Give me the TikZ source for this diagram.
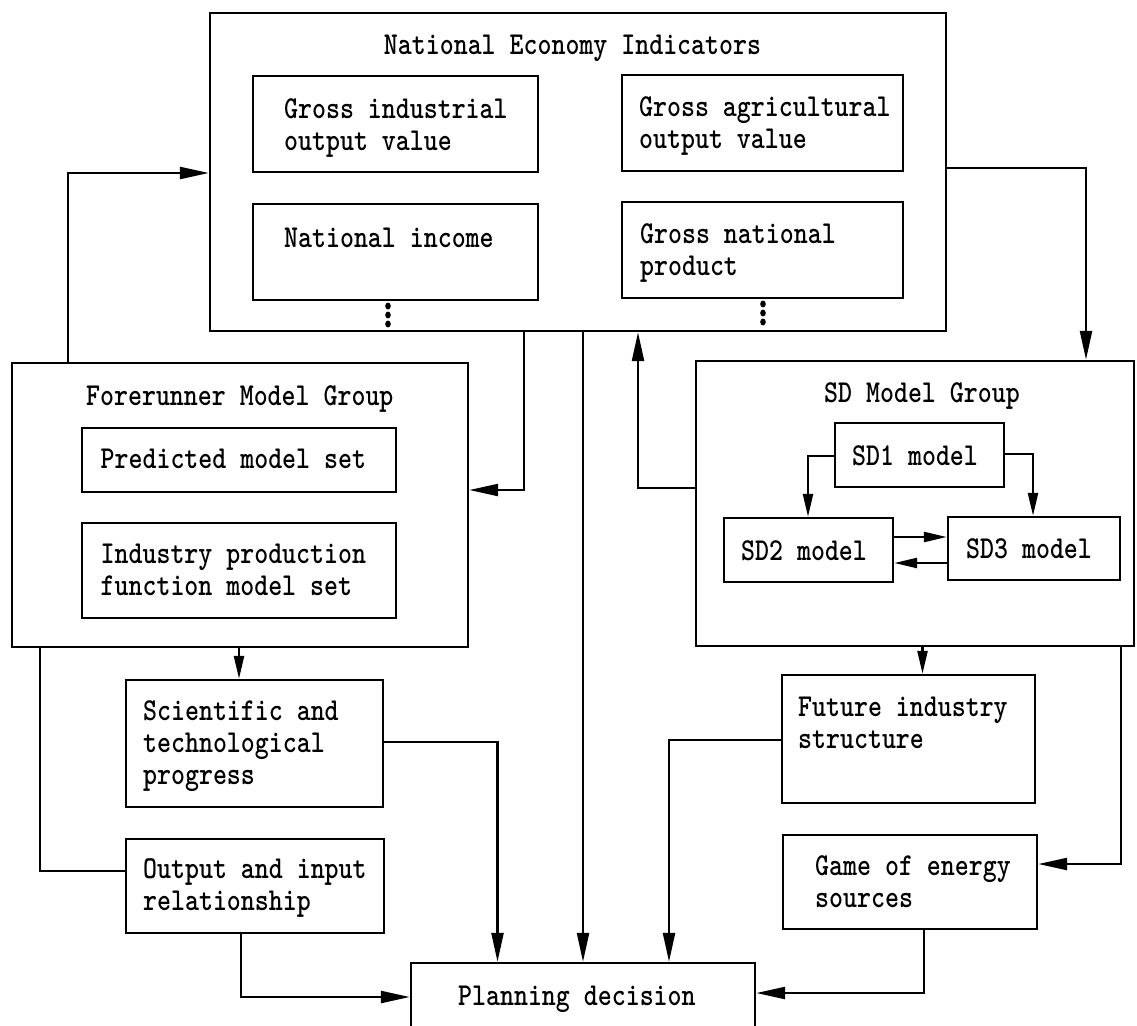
\documentclass[tikz,border=0pt]{standalone}
\usetikzlibrary{arrows.meta}
\begin{document}
\begin{tikzpicture}[x=1pt,y=-1pt, line width=2.4pt,
  box/.style={draw, rectangle, inner sep=0pt},
  txt/.style={anchor=base west, align=left, inner sep=0pt, transform shape, yscale=1.2, font=\ttfamily\bfseries\fontsize{26.6}{26.3}\selectfont},
  arr/.style={-{Triangle[length=29pt,width=12pt]}},
  sarr/.style={-{Triangle[length=23pt,width=10pt]}}]
\useasboundingbox (0,0) rectangle (1137,1025);

% National Economy Indicators
\node[box, minimum width=736pt, minimum height=318pt] (nei) at (578,172) {};
\node[txt, anchor=base] (neit) at (572.5,55) {National Economy Indicators};
\node[box, minimum width=285pt, minimum height=96pt] (gio) at (395.5,124) {};
\node[txt] (giot) at (283,150) {Gross industrial\\output value};
\node[box, minimum width=281pt, minimum height=96pt] (gao) at (762.5,123) {};
\node[txt] (gaot) at (638,148) {Gross agricultural\\output value};
\node[box, minimum width=285pt, minimum height=96pt] (ni) at (395.5,252) {};
\node[txt] (nit) at (283,247) {National income};
\node[box, minimum width=281pt, minimum height=96pt] (gnp) at (762.5,250) {};
\node[txt] (gnpt) at (639,275) {Gross national\\product};
\fill (388,306) ellipse (2.8pt and 3.4pt);
\fill (388,315) ellipse (2.8pt and 3.4pt);
\fill (388,324) ellipse (2.8pt and 3.4pt);
\fill (763,304) ellipse (2.8pt and 3.4pt);
\fill (763,313) ellipse (2.8pt and 3.4pt);
\fill (763,322) ellipse (2.8pt and 3.4pt);

% Forerunner Model Group
\node[box, minimum width=456pt, minimum height=284pt] (fore) at (240,505) {};
\node[txt] (foret) at (85,405) {Forerunner Model Group};
\node[box, minimum width=314pt, minimum height=64pt] (pred) at (239,460) {};
\node[txt] (predt) at (99.5,468) {Predicted model set};
\node[box, minimum width=314pt, minimum height=95pt] (ipf) at (239,570.5) {};
\node[txt] (ipft) at (99.5,595) {Industry production\\function model set};

% SD Model Group
\node[box, minimum width=438pt, minimum height=285pt] (sd) at (915,503.5) {};
\node[txt] (sdt) at (823,402) {SD Model Group};
\node[box, minimum width=169pt, minimum height=64pt] (sd1) at (919.5,455) {};
\node[txt] (sd1t) at (851,465) {SD1 model};
\node[box, minimum width=169pt, minimum height=64pt] (sd2) at (808.5,550) {};
\node[txt] (sd2t) at (740,560) {SD2 model};
\node[box, minimum width=172pt, minimum height=63pt] (sd3) at (1034,548.5) {};
\node[txt] (sd3t) at (965,558) {SD3 model};

% lower boxes
\node[box, minimum width=257pt, minimum height=127pt] (sci) at (254.5,743.5) {};
\node[txt] (scit) at (142,784) {Scientific and\\technological\\progress};
\node[box, minimum width=258pt, minimum height=94pt] (oir) at (255,886) {};
\node[txt] (oirt) at (142,910) {Output and input\\relationship};
\node[box, minimum width=253pt, minimum height=128pt] (fis) at (908.5,739) {};
\node[txt] (fist) at (797,748) {Future industry\\structure};
\node[box, minimum width=254pt, minimum height=94pt] (game) at (910,882) {};
\node[txt] (gamet) at (814,907) {Game of energy\\sources};
\node[box, minimum width=344pt, minimum height=77pt] (plan) at (583,1001.5) {};
\node[txt] (plant) at (457,1005) {Planning decision};

% connectors
\draw[arr] (fore.north -| 68,0) |- (nei.west |- 0,173);
\draw[arr] (nei.east |- 0,168) -| (sd.north -| 1086,0);
\draw[arr] (nei.south -| 524,0) |- (fore.east |- 0,490);
\draw[arr] (nei.south -| 583,0) -- (plan.north -| 583,0);
\draw[arr] (sd.west |- 0,488) -| (nei.south -| 638,0);
\draw[sarr] (sd1.west |- 0,456) -| (sd2.north -| 808,0);
\draw[sarr] (sd1.east |- 0,454) -| (sd3.north -| 1033,0);
\draw[sarr] (sd2.east |- 0,537) -- (sd3.west |- 0,537);
\draw[sarr] (sd3.west |- 0,563) -- (sd2.east |- 0,563);
\draw[sarr] (fore.south -| 239,0) -- (sci.north -| 239,0);
\draw (fore.south -| 40,0) |- (oir.west |- 0,871);
\draw[arr] (sci.east |- 0,742) -| (plan.north -| 497.5,0);
\draw[arr] (oir.south -| 241,0) |- (plan.west |- 0,997);
\draw[sarr] (sd.south -| 922.5,0) -- (fis.north -| 922.5,0);
\draw[arr] (sd.south -| 1121,0) |- (game.east |- 0,864);
\draw[arr] (fis.west |- 0,740) -| (plan.north -| 669,0);
\draw[arr] (game.south -| 924,0) |- (plan.east |- 0,993);
\end{tikzpicture}
\end{document}
